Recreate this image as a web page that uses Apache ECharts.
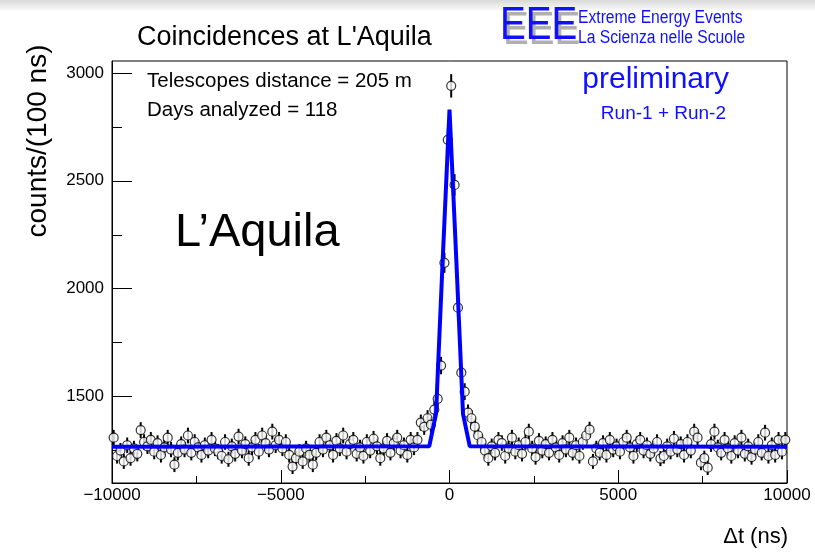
<!DOCTYPE html>
<html><head><meta charset="utf-8">
<script src="https://cdn.jsdelivr.net/npm/echarts@6/dist/echarts.min.js"></script>
<style>html,body{margin:0;padding:0;background:#fff}#c{width:815px;height:552px}</style>
</head><body><div id="c"></div><script>
// Histogram definition: 200 bins of 100 ns from -10000 to 10000 ns
const binLow = -10000;
const binWidth = 100;
// Counts per bin
const counts = [
  1310,1225,1250,1200,1275,1215,1260,1235,1345,1290,
  1270,1300,1245,1285,1230,1265,1310,1255,1185,1240,
  1280,1255,1320,1240,1290,1265,1230,1275,1250,1300,
  1260,1245,1225,1290,1210,1270,1235,1315,1250,1280,
  1215,1265,1300,1245,1320,1285,1255,1338,1275,1300,
  1260,1290,1230,1176,1215,1245,1200,1260,1230,1185,
  1240,1290,1255,1310,1275,1230,1295,1260,1320,1245,
  1280,1300,1235,1265,1225,1290,1250,1305,1270,1215,
  1260,1295,1240,1285,1310,1250,1275,1230,1300,1265,
  1300,1380,1360,1400,1370,1440,1490,1644,2120,2690,
  2940,2481,1912,1611,1523,1426,1400,1361,1320,1290,
  1250,1215,1270,1240,1300,1285,1225,1260,1310,1245,
  1275,1235,1290,1338,1260,1220,1295,1250,1280,1240,
  1300,1265,1230,1285,1255,1310,1240,1275,1225,1290,
  1320,1347,1200,1260,1240,1285,1230,1300,1255,1270,
  1245,1290,1310,1265,1225,1280,1300,1250,1275,1235,
  1260,1290,1213,1225,1270,1245,1305,1255,1280,1230,
  1290,1250,1338,1310,1194,1215,1171,1280,1338,1265,
  1240,1300,1260,1225,1285,1250,1310,1235,1270,1220,
  1255,1290,1240,1333,1225,1275,1230,1300,1245,1300
];
// Fit curve (gaussian + constant) polyline points
const fitX = [-10000, -600, -400, -200, 0, 200, 400, 600, 10000];
const fitY = [1268, 1270, 1420, 2140, 2830, 2140, 1420, 1270, 1268];
// Axis ticks
const xMajorTicks = [-10000, -5000, 0, 5000, 10000];
const yMajorTicks = [1500, 2000, 2500, 3000];
const yMinorTicks = [1250, 1750, 2250, 2750];

const FONT = 'Liberation Sans';
const points = counts.map((c, i) => [binLow + binWidth * (i + 0.5), c]);
const errData = counts.map((c, i) => [binLow + binWidth * (i + 0.5), c, Math.sqrt(c)]);
const fitData = fitX.map((x, i) => [x, fitY[i]]);

const chart = echarts.init(document.getElementById('c'), null, {renderer: 'canvas'});
const yRange = {min: 1100, max: 3055};
chart.setOption({
  animation: false,
  backgroundColor: '#fff',
  grid: {left: 112, right: 28, top: 61, bottom: 69, show: true, borderColor: '#000', borderWidth: 1,
         backgroundColor: 'transparent', outerBoundsMode: 'none'},
  xAxis: {
    type: 'value', min: xMajorTicks[0], max: xMajorTicks[xMajorTicks.length - 1], interval: 5000,
    axisLine: {show: true, onZero: false, lineStyle: {color: '#000', width: 1}},
    axisTick: {show: true, inside: true, length: 13, lineStyle: {color: '#000', width: 1}},
    minorTick: {show: true, splitNumber: 2, length: 7, lineStyle: {color: '#000', width: 1}},
    axisLabel: {show: true, color: '#000', fontFamily: FONT, fontSize: 17, margin: 4,
      showMinLabel: true, showMaxLabel: true,
      formatter: v => (v < 0 ? '\u2212' + Math.abs(v) : String(v))},
    splitLine: {show: false}, minorSplitLine: {show: false}
  },
  yAxis: [{
    type: 'value', min: yRange.min, max: yRange.max,
    axisLine: {show: true, onZero: false, lineStyle: {color: '#000', width: 1}},
    axisTick: {show: true, inside: true, length: 20, customValues: yMajorTicks, lineStyle: {color: '#000', width: 1}},
    axisLabel: {show: true, customValues: yMajorTicks, color: '#000', fontFamily: FONT, fontSize: 17, margin: 8,
      formatter: v => String(v)},
    splitLine: {show: false}
  }, {
    type: 'value', min: yRange.min, max: yRange.max, position: 'left',
    axisLine: {show: false, onZero: false},
    axisTick: {show: true, inside: true, length: 10, customValues: yMinorTicks, lineStyle: {color: '#000', width: 1}},
    axisLabel: {show: false},
    splitLine: {show: false}
  }],
  series: [{
    type: 'custom', z: 2, clip: true,
    data: errData,
    renderItem: (params, api) => {
      const x = api.value(0), y = api.value(1), e = api.value(2);
      const p1 = api.coord([x, y - e]), p2 = api.coord([x, y + e]);
      return {type: 'line', shape: {x1: p1[0], y1: p1[1], x2: p2[0], y2: p2[1]},
              style: {stroke: '#000', lineWidth: 2}};
    }
  }, {
    type: 'scatter', z: 3, data: points, symbol: 'circle', symbolSize: 9,
    itemStyle: {color: '#fff', borderColor: '#000', borderWidth: 1.2}
  }, {
    type: 'line', z: 4, data: fitData, showSymbol: false, symbol: 'none',
    lineStyle: {color: '#0000ff', width: 4}
  }],
  graphic: [
    {type: 'rect', shape: {x: 0, y: 0, width: 815, height: 12}, silent: true,
     style: {fill: new echarts.graphic.LinearGradient(0, 0, 0, 1, [{offset: 0, color: '#d9d9d9'}, {offset: 1, color: '#ffffff'}])}},
    {type: 'text', x: 137, y: 38, style: {text: 'Coincidences at L\'Aquila', fill: '#000', fontFamily: FONT, fontSize: 27, verticalAlign: 'middle', align: 'left'}},
    {type: 'text', x: 503, y: 31, scaleX: 0.84, style: {text: 'EEE', fill: '#b0b0b0', fontFamily: FONT, fontSize: 46, verticalAlign: 'middle', align: 'left'}},
    {type: 'text', x: 500, y: 26, scaleX: 0.84, style: {text: 'EEE', fill: '#1010ff', fontFamily: FONT, fontSize: 46, verticalAlign: 'middle', align: 'left'}},
    {type: 'text', x: 578, y: 18, scaleX: 0.87, style: {text: 'Extreme Energy Events', fill: '#1010ff', fontFamily: FONT, fontSize: 18, verticalAlign: 'middle', align: 'left'}},
    {type: 'text', x: 578, y: 38, scaleX: 0.87, style: {text: 'La Scienza nelle Scuole', fill: '#1010ff', fontFamily: FONT, fontSize: 18, verticalAlign: 'middle', align: 'left'}},
    {type: 'text', x: 147, y: 81, style: {text: 'Telescopes distance = 205 m', fill: '#000', fontFamily: FONT, fontSize: 20.5, verticalAlign: 'middle', align: 'left'}},
    {type: 'text', x: 147, y: 110, style: {text: 'Days analyzed = 118', fill: '#000', fontFamily: FONT, fontSize: 20.5, verticalAlign: 'middle', align: 'left'}},
    {type: 'text', x: 729, y: 80, style: {text: 'preliminary', fill: '#1010ff', fontFamily: FONT, fontSize: 30, verticalAlign: 'middle', align: 'right'}},
    {type: 'text', x: 726, y: 114, style: {text: 'Run-1 + Run-2', fill: '#1010ff', fontFamily: FONT, fontSize: 19, verticalAlign: 'middle', align: 'right'}},
    {type: 'text', x: 175, y: 233, style: {text: 'L\u2019Aquila', fill: '#000', fontFamily: FONT, fontSize: 47, verticalAlign: 'middle', align: 'left'}},
    {type: 'text', x: 38, y: 141, rotation: Math.PI / 2, style: {text: 'counts/(100 ns)', fill: '#000', fontFamily: FONT, fontSize: 28, verticalAlign: 'middle', align: 'center'}},
    {type: 'text', x: 788, y: 537, style: {text: '\u0394t (ns)', fill: '#000', fontFamily: FONT, fontSize: 22, verticalAlign: 'middle', align: 'right'}}
  ]
});
</script></body></html>
